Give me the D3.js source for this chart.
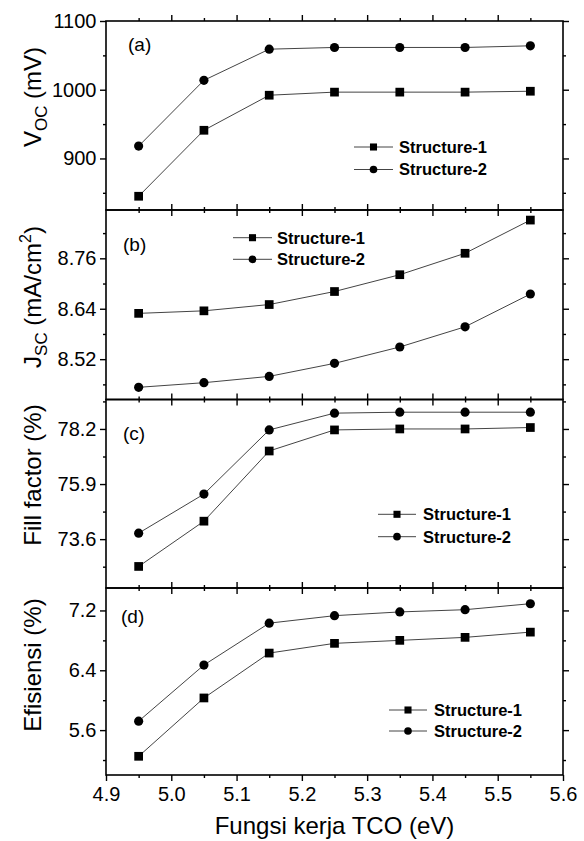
<!DOCTYPE html>
<html>
<head>
<meta charset="utf-8">
<script src="https://cdn.jsdelivr.net/npm/d3@7"></script>
<style>
  html, body { margin: 0; padding: 0; background: #fff; }
  svg { display: block; font-family: Arial, "Liberation Sans", sans-serif; }
</style>
</head>
<body>
<svg id="chart" width="584" height="841"></svg>
<script>
// ---------- data ----------
const workFunction = [4.95, 5.05, 5.15, 5.25, 5.35, 5.45, 5.55];
const seriesNames = ["Structure-1", "Structure-2"];

const vocS1 = [845, 941, 992, 996.5, 996.5, 996.5, 997.8];
const vocS2 = [918, 1013.7, 1059, 1061.5, 1061.5, 1061.5, 1063.9];

const jscS1 = [8.629, 8.635, 8.650, 8.681, 8.721, 8.772, 8.851];
const jscS2 = [8.453, 8.464, 8.479, 8.510, 8.549, 8.597, 8.675];

const ffS1 = [72.46, 74.35, 77.28, 78.16, 78.20, 78.20, 78.26];
const ffS2 = [73.85, 75.48, 78.16, 78.86, 78.90, 78.90, 78.90];

const effS1 = [5.25, 6.03, 6.63, 6.76, 6.80, 6.84, 6.91];
const effS2 = [5.72, 6.47, 7.03, 7.13, 7.18, 7.21, 7.29];

const xMajorTicks = [4.9, 5.0, 5.1, 5.2, 5.3, 5.4, 5.5, 5.6];
const xMinorTicks = [4.95, 5.05, 5.15, 5.25, 5.35, 5.45, 5.55];
const xTickLabels = ["4.9", "5.0", "5.1", "5.2", "5.3", "5.4", "5.5", "5.6"];

const vocMajor = [900, 1000, 1100];
const vocMinor = [850, 950, 1050];
const jscMajor = [8.52, 8.64, 8.76];
const jscMinor = [8.46, 8.58, 8.70, 8.82];
const ffMajor = [73.6, 75.9, 78.2];
const ffMinor = [72.45, 74.75, 77.05, 79.35];
const effMajor = [5.6, 6.4, 7.2];
const effMinor = [5.2, 6.0, 6.8];

const vocTickLabels = ["900", "1000", "1100"];
const jscTickLabels = ["8.52", "8.64", "8.76"];
const ffTickLabels = ["73.6", "75.9", "78.2"];
const effTickLabels = ["5.6", "6.4", "7.2"];

// ---------- layout ----------
const svg = d3.select("#chart");
const L = 106, R = 563;
const x = d3.scaleLinear().domain([4.9, 5.6]).range([L, R]);

const panels = [
  { top: 21, bottom: 210, domain: [825, 1100], major: vocMajor, minor: vocMinor, labels: vocTickLabels,
    s1: vocS1, s2: vocS2, tag: "(a)", tagX: 128, tagY: 51,
    title: [["V", 0], ["OC", 1], [" (mV)", 0]], titleY: 97,
    leg: { x1: 354, x2: 393, tx: 399, y1: 147, y2: 169.5 } },
  { top: 210, bottom: 399.5, domain: [8.424, 8.875], major: jscMajor, minor: jscMinor, labels: jscTickLabels,
    s1: jscS1, s2: jscS2, tag: "(b)", tagX: 123, tagY: 251,
    title: [["J", 0], ["SC", 1], [" (mA/cm", 0], ["2", 2], [")", 0]], titleY: 297,
    leg: { x1: 233, x2: 272, tx: 277, y1: 237.7, y2: 259.3 } },
  { top: 399.5, bottom: 588, domain: [71.56, 79.43], major: ffMajor, minor: ffMinor, labels: ffTickLabels,
    s1: ffS1, s2: ffS2, tag: "(c)", tagX: 123, tagY: 440,
    title: [["Fill factor (%)", 0]], titleY: 475,
    leg: { x1: 378, x2: 416, tx: 423, y1: 514.3, y2: 536.7 } },
  { top: 588, bottom: 775, domain: [5.0, 7.5], major: effMajor, minor: effMinor, labels: effTickLabels,
    s1: effS1, s2: effS2, tag: "(d)", tagX: 121, tagY: 623,
    title: [["Efisiensi (%)", 0]], titleY: 665,
    leg: { x1: 389, x2: 427, tx: 434, y1: 710, y2: 731 } }
];

const sqSym = d3.symbol().type(d3.symbolSquare);
const ciSym = d3.symbol().type(d3.symbolCircle);

function styleAxis(g) {
  g.select(".domain").remove();
  g.selectAll("line").attr("stroke", "#000").attr("stroke-width", 1.4);
  g.selectAll("text").attr("fill", "#000").attr("font-family", "Arial, 'Liberation Sans', sans-serif");
}

panels.forEach((p, i) => {
  const y = d3.scaleLinear().domain(p.domain).range([p.bottom, p.top]);
  const isLast = i === panels.length - 1;

  // y axes (left with labels, right mirror)
  const gl = svg.append("g").attr("transform", `translate(${L},0)`)
    .call(d3.axisLeft(y).tickValues(p.major).tickSize(6).tickPadding(3.5)
      .tickFormat((d, k) => p.labels[k]));
  gl.selectAll("text").attr("font-size", 20);
  styleAxis(gl);
  const glm = svg.append("g").attr("transform", `translate(${L},0)`)
    .call(d3.axisLeft(y).tickValues(p.minor).tickSize(3).tickFormat(""));
  styleAxis(glm);
  const gr = svg.append("g").attr("transform", `translate(${R},0)`)
    .call(d3.axisRight(y).tickValues(p.major).tickSize(6).tickFormat(""));
  styleAxis(gr);
  const grm = svg.append("g").attr("transform", `translate(${R},0)`)
    .call(d3.axisRight(y).tickValues(p.minor).tickSize(3).tickFormat(""));
  styleAxis(grm);

  // x axes (top & bottom, outward)
  const gt = svg.append("g").attr("transform", `translate(0,${p.top})`)
    .call(d3.axisTop(x).tickValues(xMajorTicks.slice(1, -1)).tickSize(6).tickFormat(""));
  styleAxis(gt);
  const gtm = svg.append("g").attr("transform", `translate(0,${p.top})`)
    .call(d3.axisTop(x).tickValues(xMinorTicks).tickSize(3).tickFormat(""));
  styleAxis(gtm);
  const gb = svg.append("g").attr("transform", `translate(0,${p.bottom})`)
    .call(d3.axisBottom(x).tickValues(isLast ? xMajorTicks : xMajorTicks.slice(1, -1)).tickSize(6).tickPadding(6)
      .tickFormat(isLast ? ((d, k) => xTickLabels[k]) : ""));
  gb.selectAll("text").attr("font-size", 20);
  styleAxis(gb);
  const gbm = svg.append("g").attr("transform", `translate(0,${p.bottom})`)
    .call(d3.axisBottom(x).tickValues(xMinorTicks).tickSize(3).tickFormat(""));
  styleAxis(gbm);

  // frame
  svg.append("rect").attr("x", L).attr("y", p.top).attr("width", R - L).attr("height", p.bottom - p.top)
    .attr("fill", "none").attr("stroke", "#000").attr("stroke-width", 1.6);

  // lines
  const line = d3.line().x((d, k) => x(workFunction[k])).y(d => y(d));
  [p.s1, p.s2].forEach(s => {
    svg.append("path").datum(s).attr("d", line)
      .attr("fill", "none").attr("stroke", "#444").attr("stroke-width", 1);
  });
  // markers
  svg.append("g").selectAll("path").data(p.s1).join("path")
    .attr("d", sqSym.size(76)()).attr("transform", (d, k) => `translate(${x(workFunction[k])},${y(d)})`)
    .attr("fill", "#000");
  svg.append("g").selectAll("path").data(p.s2).join("path")
    .attr("d", ciSym.size(66)()).attr("transform", (d, k) => `translate(${x(workFunction[k])},${y(d)})`)
    .attr("fill", "#000");

  // panel tag
  svg.append("text").attr("x", p.tagX).attr("y", p.tagY).attr("font-size", 19).attr("fill", "#000")
    .text(p.tag);

  // y title
  const t = svg.append("text")
    .attr("transform", `translate(41,${p.titleY}) rotate(-90)`)
    .attr("text-anchor", "middle").attr("font-size", 24).attr("fill", "#000");
  p.title.forEach(([txt, kind]) => {
    const ts = t.append("tspan").text(txt);
    if (kind === 1) ts.attr("font-size", 17).attr("dy", 6);
    else if (kind === 2) ts.attr("font-size", 16).attr("dy", -10);
    else ts.attr("dy", 0);
  });
  // fix baseline returns after sub/superscript
  let shift = 0;
  t.selectAll("tspan").each(function(d, k) {
    const kind = p.title[k][1];
    const sel = d3.select(this);
    if (kind === 1) { sel.attr("dy", 6 - shift); shift = 6; }
    else if (kind === 2) { sel.attr("dy", -10 - shift); shift = -10; }
    else { sel.attr("dy", -shift); shift = 0; }
  });

  // legend
  const lg = svg.append("g");
  [[p.leg.y1, sqSym.size(50)(), seriesNames[0]], [p.leg.y2, ciSym.size(46)(), seriesNames[1]]].forEach(([ly, sym, name]) => {
    lg.append("line").attr("x1", p.leg.x1).attr("x2", p.leg.x2).attr("y1", ly).attr("y2", ly)
      .attr("stroke", "#444").attr("stroke-width", 1);
    lg.append("path").attr("d", sym).attr("transform", `translate(${(p.leg.x1 + p.leg.x2) / 2},${ly})`).attr("fill", "#000");
    lg.append("text").attr("x", p.leg.tx).attr("y", ly).attr("dy", "0.36em")
      .attr("font-size", 16.5).attr("font-weight", "bold").attr("fill", "#000").text(name);
  });
});

// x title
svg.append("text").attr("x", (L + R) / 2).attr("y", 834).attr("text-anchor", "middle")
  .attr("font-size", 24).attr("fill", "#000").text("Fungsi kerja TCO (eV)");
</script>
</body>
</html>
